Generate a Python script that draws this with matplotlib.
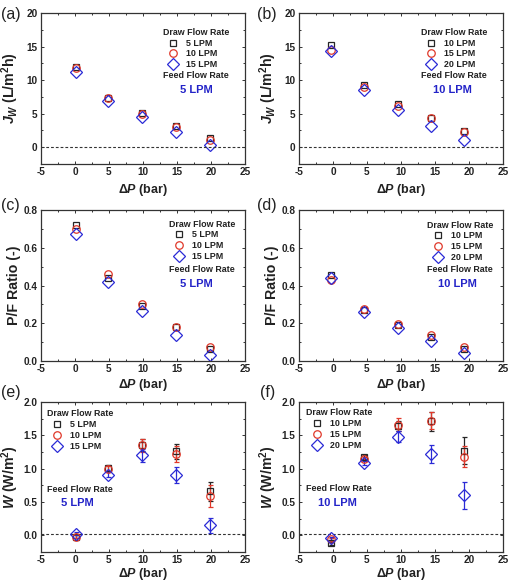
import numpy as np
import matplotlib.pyplot as plt
from matplotlib.ticker import AutoMinorLocator, MultipleLocator

plt.rcParams["font.family"] = ["Liberation Sans", "DejaVu Sans"]
plt.rcParams["font.weight"] = "bold"
plt.rcParams["axes.labelweight"] = "bold"
plt.rcParams["axes.unicode_minus"] = False
plt.rcParams["mathtext.fontset"] = "custom"
plt.rcParams["mathtext.it"] = "Liberation Sans:bold:italic"
plt.rcParams["mathtext.rm"] = "Liberation Sans:bold"
plt.rcParams["mathtext.bf"] = "Liberation Sans:bold"

# =========================================================
# Data
# =========================================================
dp_5 = [0.1, 4.9, 9.8, 14.8, 19.8]      # feed 5 LPM
dp_10 = [-0.3, 4.6, 9.5, 14.4, 19.2]    # feed 10 LPM

labels_feed5 = ["5 LPM", "10 LPM", "15 LPM"]
labels_feed10 = ["10 LPM", "15 LPM", "20 LPM"]

# Jw (L/m2h)
jw_a = [[11.9, 7.4, 5.1, 3.1, 1.3],
        [11.8, 7.3, 5.0, 3.0, 1.1],
        [11.2, 6.9, 4.5, 2.2, 0.3]]
jw_b = [[15.3, 9.3, 6.4, 4.3, 2.4],
        [14.5, 9.0, 6.2, 4.3, 2.2],
        [14.3, 8.5, 5.6, 3.1, 1.1]]

# P/F ratio
pf_c = [[0.72, 0.44, 0.29, 0.18, 0.065],
        [0.70, 0.46, 0.30, 0.18, 0.075],
        [0.675, 0.42, 0.265, 0.14, 0.03]]
pf_d = [[0.455, 0.27, 0.19, 0.127, 0.065],
        [0.43, 0.275, 0.198, 0.136, 0.074],
        [0.44, 0.26, 0.177, 0.106, 0.044]]

# W (W/m2) with error bars
w_e = [[-0.02, 1.01, 1.36, 1.26, 0.66],
       [-0.02, 1.00, 1.35, 1.22, 0.59],
       [0.025, 0.91, 1.20, 0.90, 0.15]]
w_e_err = [[0.02, 0.04, 0.09, 0.11, 0.14],
           [0.02, 0.04, 0.10, 0.12, 0.17],
           [0.02, 0.04, 0.10, 0.12, 0.11]]
w_f = [[-0.12, 1.18, 1.64, 1.71, 1.27],
       [-0.06, 1.15, 1.66, 1.72, 1.18],
       [-0.045, 1.09, 1.48, 1.22, 0.60]]
w_f_err = [[0.02, 0.03, 0.07, 0.14, 0.20],
           [0.02, 0.03, 0.10, 0.13, 0.16],
           [0.02, 0.03, 0.08, 0.13, 0.20]]

colors = ["#262626", "#e0382a", "#2a2ad6"]
markers = ["s", "o", "D"]
msizes = [4.8, 5.4, 5.8]
feed_blue = "#2323c8"

# =========================================================
# Layout
# =========================================================
fig = plt.figure(figsize=(5.10, 5.82), dpi=100)
cols = [41 / 510, 299 / 510]
w = 204 / 510
rows = [(13, 164), (210, 361), (402, 552)]
axes = []
for top, bot in rows:
    rr = []
    for left in cols:
        rr.append(fig.add_axes([left, 1 - bot / 582, w, (bot - top) / 582]))
    axes.append(rr)


def style(ax, ylim, ymajor, ylabel, xpad=1.5):
    ax.set_xlim(-5, 25)
    ax.set_ylim(*ylim)
    ax.xaxis.set_major_locator(MultipleLocator(5))
    ax.yaxis.set_major_locator(MultipleLocator(ymajor))
    ax.xaxis.set_minor_locator(AutoMinorLocator(2))
    ax.yaxis.set_minor_locator(AutoMinorLocator(2))
    ax.tick_params(which="both", direction="in", top=True, right=True,
                   labelsize=7.2, width=0.7, color="#333333", pad=2.5,
                   labelcolor="#222222")
    ax.tick_params(which="major", length=2.5)
    ax.tick_params(which="minor", length=1.5)
    for sp in ax.spines.values():
        sp.set_linewidth(0.9)
        sp.set_color("#333333")
    ax.set_xlabel(r"$\Delta$$\it{P}$ (bar)", fontsize=9, labelpad=xpad,
                  color="#222222")
    ax.set_ylabel(ylabel, fontsize=10.2, color="#222222")
    ax.yaxis.set_label_coords(-0.1, 0.5)


def draw(ax, x, ys, labels, errs=None):
    handles = []
    for i in range(3):
        if errs is None:
            h, = ax.plot(x, ys[i], ls="none", marker=markers[i], ms=msizes[i],
                         mfc="none", mec=colors[i], mew=0.9, label=labels[i])
        else:
            ax.errorbar(x, ys[i], yerr=errs[i], ls="none", marker=markers[i],
                        ms=msizes[i], mfc="none", mec=colors[i], mew=0.9,
                        ecolor=colors[i], elinewidth=0.9, capsize=1.8,
                        capthick=0.9)
            h, = ax.plot([], [], ls="none", marker=markers[i], ms=msizes[i],
                         mfc="none", mec=colors[i], mew=0.9, label=labels[i])
        handles.append(h)
    return handles


def legend_block(ax, handles, tx, ty, lx, ly, fx, fy, bx, by, feed):
    ax.text(tx, ty, "Draw Flow Rate", transform=ax.transAxes, fontsize=6.4,
            ha="center", va="center", color="#222222")
    leg = ax.legend(handles=handles, loc="upper left", bbox_to_anchor=(lx, ly),
                    frameon=False, fontsize=6.4, handlelength=1.0,
                    handletextpad=1.0, labelspacing=0.2, borderpad=0,
                    borderaxespad=0)
    for t in leg.get_texts():
        t.set_color("#222222")
    ax.text(fx, fy, "Feed Flow Rate", transform=ax.transAxes, fontsize=6.4,
            ha="center", va="center", color="#222222")
    ax.text(bx, by, feed, transform=ax.transAxes, fontsize=8,
            ha="center", va="center", color=feed_blue)


# (a)
ax = axes[0][0]
h = draw(ax, dp_5, jw_a, labels_feed5)
ax.axhline(0, ls="--", color="#333333", lw=0.8, dashes=(2.5, 1.8))
style(ax, (-2.5, 20), 5, r"$\it{J}_{\it{W}}$ (L/m$^2$h)", xpad=3)
legend_block(ax, h, 0.76, 0.874, 0.625, 0.83, 0.76, 0.583, 0.763, 0.49, "5 LPM")

# (b)
ax = axes[0][1]
h = draw(ax, dp_10, jw_b, labels_feed10)
ax.axhline(0, ls="--", color="#333333", lw=0.8, dashes=(2.5, 1.8))
style(ax, (-2.5, 20), 5, r"$\it{J}_{\it{W}}$ (L/m$^2$h)", xpad=3)
legend_block(ax, h, 0.76, 0.874, 0.625, 0.83, 0.76, 0.583, 0.752, 0.49, "10 LPM")

# (c)
ax = axes[1][0]
h = draw(ax, dp_5, pf_c, labels_feed5)
style(ax, (0, 0.8), 0.2, "P/F Ratio (-)", xpad=2)
legend_block(ax, h, 0.788, 0.907, 0.655, 0.865, 0.79, 0.603, 0.764, 0.51, "5 LPM")

# (d)
ax = axes[1][1]
h = draw(ax, dp_10, pf_d, labels_feed10)
style(ax, (0, 0.8), 0.2, "P/F Ratio (-)", xpad=2)
legend_block(ax, h, 0.79, 0.90, 0.66, 0.859, 0.79, 0.603, 0.775, 0.51, "10 LPM")

# (e)
ax = axes[2][0]
h = draw(ax, dp_5, w_e, labels_feed5, w_e_err)
ax.axhline(0.02, ls="--", color="#333333", lw=0.8, dashes=(2.5, 1.8))
style(ax, (-0.25, 2.0), 0.5, r"$\it{W}$ (W/m$^2$)", xpad=0.5)
legend_block(ax, h, 0.192, 0.92, 0.055, 0.878, 0.19, 0.417, 0.177, 0.33, "5 LPM")

# (f)
ax = axes[2][1]
h = draw(ax, dp_10, w_f, labels_feed10, w_f_err)
ax.axhline(0.02, ls="--", color="#333333", lw=0.8, dashes=(2.5, 1.8))
style(ax, (-0.25, 2.0), 0.5, r"$\it{W}$ (W/m$^2$)", xpad=0.5)
legend_block(ax, h, 0.196, 0.927, 0.065, 0.885, 0.196, 0.424, 0.187, 0.33, "10 LPM")

# panel letters
for lab, px, py in [("(a)", 1, 14), ("(b)", 257, 14), ("(c)", 1, 205),
                    ("(d)", 257, 205), ("(e)", 1, 393), ("(f)", 260, 393)]:
    fig.text(px / 510, 1 - py / 582, lab, fontsize=11.5, fontweight="normal",
             ha="left", va="center", color="#222222")

fig.savefig("out.png", dpi=100, facecolor="white")
